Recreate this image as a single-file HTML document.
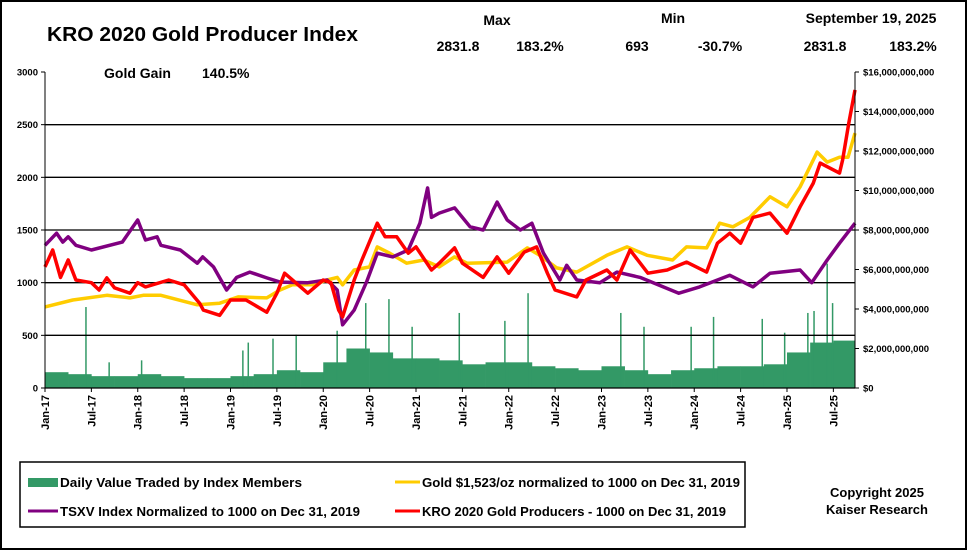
<!DOCTYPE html>
<html><head><meta charset="utf-8"><style>
html,body{margin:0;padding:0;background:#fff}
#wrap{position:relative;width:967px;height:550px;overflow:hidden}
svg text{font-family:"Liberation Sans",Arial,sans-serif;font-weight:bold;fill:#000}
</style></head><body>
<div id="wrap">
<svg id="chart" width="967" height="550" viewBox="0 0 967 550">
<rect x="1" y="1" width="965" height="548" fill="#fff" stroke="#000" stroke-width="2"/>
<text x="47" y="41" font-size="20" textLength="311" lengthAdjust="spacingAndGlyphs">KRO 2020 Gold Producer Index</text>
<text x="497" y="25" font-size="14" text-anchor="middle">Max</text>
<text x="458" y="51" font-size="14" text-anchor="middle">2831.8</text>
<text x="540" y="51" font-size="14" text-anchor="middle">183.2%</text>
<text x="673" y="23" font-size="14" text-anchor="middle">Min</text>
<text x="637" y="51" font-size="14" text-anchor="middle">693</text>
<text x="720" y="51" font-size="14" text-anchor="middle">-30.7%</text>
<text x="871" y="23" font-size="14" text-anchor="middle">September 19, 2025</text>
<text x="825" y="51" font-size="14" text-anchor="middle">2831.8</text>
<text x="913" y="51" font-size="14" text-anchor="middle">183.2%</text>
<text x="104" y="78" font-size="14">Gold Gain</text>
<text x="202" y="78" font-size="14">140.5%</text>
<g id="bars"></g>
<g id="grid"></g>
<g id="lines"></g>
<g id="axes"></g>
<rect x="20" y="462" width="725" height="65" fill="none" stroke="#000" stroke-width="1.5"/>
<rect x="28" y="478" width="30" height="9" fill="#339966"/>
<text x="60" y="487" font-size="13" textLength="242" lengthAdjust="spacingAndGlyphs">Daily Value Traded by Index Members</text>
<line x1="395" y1="482" x2="420" y2="482" stroke="#FFCC00" stroke-width="3"/>
<text x="422" y="487" font-size="13" textLength="318" lengthAdjust="spacingAndGlyphs">Gold $1,523/oz normalized to 1000 on Dec 31, 2019</text>
<line x1="28" y1="511" x2="58" y2="511" stroke="#800080" stroke-width="3"/>
<text x="60" y="516" font-size="13" textLength="300" lengthAdjust="spacingAndGlyphs">TSXV Index Normalized to 1000 on Dec 31, 2019</text>
<line x1="395" y1="511" x2="420" y2="511" stroke="#FF0000" stroke-width="3"/>
<text x="422" y="516" font-size="13" textLength="304" lengthAdjust="spacingAndGlyphs">KRO 2020 Gold Producers - 1000 on Dec 31, 2019</text>
<text x="877" y="497" font-size="13" text-anchor="middle">Copyright 2025</text>
<text x="877" y="514" font-size="13" text-anchor="middle">Kaiser Research</text>
</svg>
</div>
<script>
// months since Jan 2017
const kroMonths=[0,1,2,3,4,6,7,8,9,11,12,13,16,18,20,20.5,22.6,24,26,28.7,30,31,34,36,37,38,38.5,40,41,43,44,45.5,47,48,50,51,53,54,56.7,58.5,60,62,63.6,65,66,68.8,70,72.7,74,75.7,78,80.5,83,85.6,87,88.6,90,91.6,93.8,96,97.7,99.4,100.3,102.8,103.2,104,104.8];
const kroValues=[1150,1310,1050,1215,1025,1000,930,1045,950,900,1000,960,1025,980,805,740,690,835,835,720,900,1090,900,1025,1000,740,675,1025,1215,1565,1435,1435,1280,1340,1120,1185,1330,1185,1050,1245,1090,1290,1340,1090,930,865,1025,1120,1025,1310,1090,1120,1195,1100,1375,1470,1375,1620,1660,1470,1720,1945,2135,2040,2165,2515,2830];
const tsxvMonths=[0,1.5,2.3,3,4,6,10,12,13,14.5,15,17.5,19.7,20.4,21.8,23.5,24.8,26.5,28.7,30.4,34,36.5,37.8,38.5,40,41.6,43,45,47,48.5,49.5,50,51,53,55,56.7,58.5,59.8,61.5,63,64.5,66.6,67.5,68.8,71.8,74,77,82,84.7,88.6,91.6,93.8,97.7,99.2,101.2,102.8,104.8];
const tsxvValues=[1355,1470,1385,1435,1355,1310,1385,1595,1405,1435,1355,1310,1185,1245,1150,930,1050,1100,1045,1005,1000,1025,930,600,740,1005,1280,1245,1310,1565,1900,1620,1660,1710,1530,1500,1765,1595,1500,1565,1280,1025,1165,1025,1000,1100,1050,900,960,1070,960,1090,1120,1000,1215,1375,1565];
const goldMonths=[0,3.6,8,11,12.7,15,18.4,19.7,22.6,25,28.7,30.4,32,34.7,36.5,37.8,38.5,40,42,43,44.6,46.8,49,51,53,54.6,59.8,62.4,64,66.2,68.8,72.7,75.3,77.9,81.2,83,85.6,87.3,89,91.2,93.8,96,97.7,99.9,101.2,102.8,103.9,104.8];
const goldValues=[770,835,880,855,880,880,815,790,805,865,855,930,980,980,1025,1050,980,1120,1150,1340,1280,1185,1215,1150,1245,1185,1195,1330,1260,1140,1100,1260,1340,1260,1215,1340,1330,1565,1530,1620,1815,1720,1910,2240,2145,2190,2190,2420];
// quarterly typical daily value traded ($B), Q1-2017 .. Q3-2025
const volQuarterValues=[0.8,0.7,0.6,0.6,0.7,0.6,0.5,0.5,0.6,0.7,0.9,0.8,1.3,2.0,1.8,1.5,1.5,1.4,1.2,1.3,1.3,1.1,1.0,0.9,1.1,0.9,0.7,0.9,1.0,1.1,1.1,1.2,1.8,2.3,2.4];
const spikeMonths=[5.3,8.3,12.5,25.6,26.3,29.5,32.5,37.8,41.5,44.5,47.5,53.6,59.5,62.5,74.5,77.5,83.6,86.5,92.8,95.7,98.7,99.5,101.2,101.9];
const spikeValues=[4.1,1.3,1.4,1.9,2.3,2.5,2.7,2.9,4.3,4.5,3.1,3.8,3.4,4.8,3.8,3.1,3.1,3.6,3.5,2.8,3.8,3.9,6.3,4.3];
const leftTicks=[0,500,1000,1500,2000,2500,3000];
const rightTicks=[0,2,4,6,8,10,12,14,16];
const xTickLabels=["Jan-17","Jul-17","Jan-18","Jul-18","Jan-19","Jul-19","Jan-20","Jul-20","Jan-21","Jul-21","Jan-22","Jul-22","Jan-23","Jul-23","Jan-24","Jul-24","Jan-25","Jul-25"];

const NS="http://www.w3.org/2000/svg";
const X0=45,X1=855,Y0=388,Y1=72,MAXM=104.8;
function xs(m){return X0+m*(X1-X0)/MAXM;}
function yl(v){return Y0-v*(Y0-Y1)/3000;}
function yr(b){return Y0-b*(Y0-Y1)/16;}
function mk(tag,attrs,parent){const e=document.createElementNS(NS,tag);for(const k in attrs)e.setAttribute(k,attrs[k]);parent.appendChild(e);return e;}
const bars=document.getElementById('bars'),grid=document.getElementById('grid'),lines=document.getElementById('lines'),axes=document.getElementById('axes');

volQuarterValues.forEach((v,i)=>{
  const x=xs(i*3), w=Math.min(xs(Math.min((i+1)*3,MAXM))-x, X1-x);
  const r=mk('rect',{x:x,y:yr(v),width:w+0.3,height:Y0-yr(v),fill:'#339966'},bars);
  
  
});
spikeMonths.forEach((m,i)=>{
  const l=mk('line',{x1:xs(m),x2:xs(m),y1:Y0,y2:yr(spikeValues[i]),stroke:'#339966','stroke-width':1.5},bars);
  
  
});
leftTicks.forEach(v=>{
  if(v>0&&v<3000){const g=mk('line',{x1:X0,x2:X1,y1:yl(v),y2:yl(v),stroke:'#000','stroke-width':1.3},grid);
  
  }
  mk('line',{x1:X0-4,x2:X0,y1:yl(v),y2:yl(v),stroke:'#000'},axes);
  const tx=mk('text',{x:X0-7,y:yl(v)+3.5,'font-size':9.5,'text-anchor':'end'},axes);tx.textContent=String(v);
  
  
});
rightTicks.forEach(b=>{
  mk('line',{x1:X1,x2:X1+4,y1:yr(b),y2:yr(b),stroke:'#000'},axes);
  const tx=mk('text',{x:X1+8,y:yr(b)+3.5,'font-size':9.5},axes);
  tx.textContent=b===0?'$0':'$'+(b*1e9).toLocaleString('en-US');
  
  
});
function series(months,vals,color,name){
  const d=months.map((m,i)=>(i?'L':'M')+xs(m).toFixed(1)+','+yl(vals[i]).toFixed(1)).join('');
  const p=mk('path',{d:d,fill:'none',stroke:color,'stroke-width':3.5,'stroke-linejoin':'round'},lines);
  
  
}
series(goldMonths,goldValues,'#FFCC00','gold-line');
series(tsxvMonths,tsxvValues,'#800080','tsxv-line');
series(kroMonths,kroValues,'#FF0000','kro-line');
mk('line',{x1:X0,x2:X0,y1:Y1,y2:Y0,stroke:'#000','stroke-width':1},axes);
mk('line',{x1:X1,x2:X1,y1:Y1,y2:Y0,stroke:'#000','stroke-width':1},axes);
mk('line',{x1:X0,x2:X1,y1:Y0,y2:Y0,stroke:'#000','stroke-width':1.3},axes);
xTickLabels.forEach((lab,i)=>{
  const x=xs(i*6);
  mk('line',{x1:x,x2:x,y1:Y0,y2:Y0+4,stroke:'#000'},axes);
  const tx=mk('text',{x:0,y:0,'font-size':11,'text-anchor':'end',transform:'translate('+(x+4)+','+(Y0+7)+') rotate(-90)'},axes);
  tx.textContent=lab;
  
  
});
</script>
</body></html>
